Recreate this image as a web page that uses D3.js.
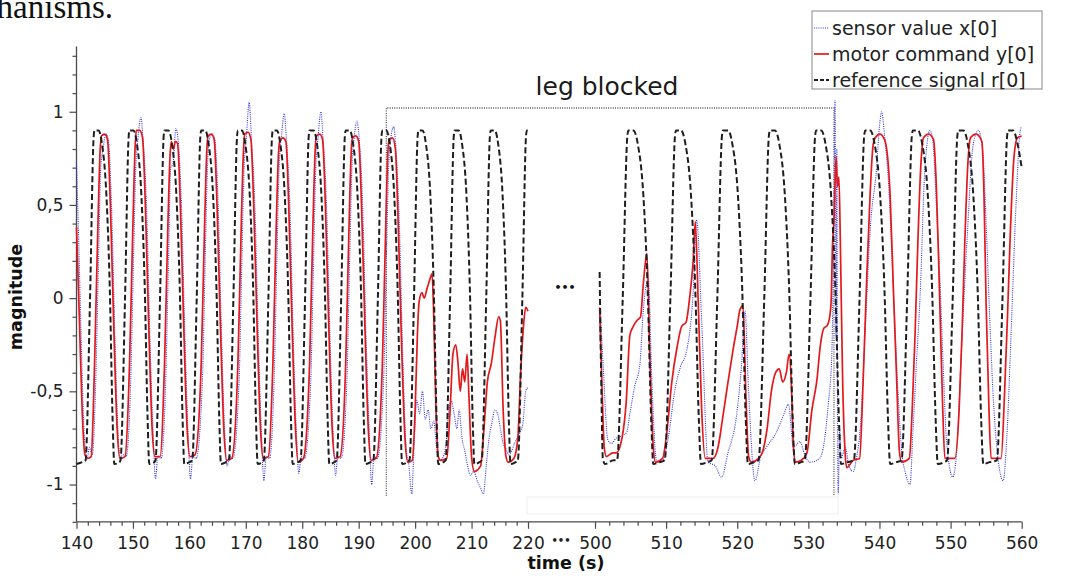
<!DOCTYPE html>
<html><head><meta charset="utf-8">
<script src="https://cdn.jsdelivr.net/npm/d3@7"></script>
<style>body{margin:0;background:#fff}svg{display:block}</style>
</head><body>
<svg id="c" width="1073" height="579"></svg>
<script>
// ---------- data ----------
const xTicksLeft = [140,150,160,170,180,190,200,210,220];
const xTicksRight = [500,510,520,530,540,550,560];
const yTicks = [-1,-0.5,0,0.5,1];
const yTickLabels = ["-1","-0,5","0","0,5","1"];
const seriesNames = ["sensor value x[0]","motor command y[0]","reference signal r[0]"];
const blockedSpan = [194.9, 533.6];   // left-segment start, right-segment end (s)
const blockedLevels = [1.02, -1.06];

const refLeft = [
[140.0,-0.89],[141.0,-0.88],
[141.6,-0.87],[142.4,0.0],[143.05,0.87],[143.2,0.9],[143.9,0.9],[144.5,0.83],[145.3,0.55],[145.9,0.05],[146.4,-0.65],[146.7,-0.89],[147.6,-0.88],
[147.8,-0.87],[148.6,0.0],[149.25,0.87],[149.4,0.9],[150.1,0.9],[150.7,0.83],[151.5,0.55],[152.1,0.05],[152.6,-0.65],[152.9,-0.89],[153.8,-0.88],
[154.0,-0.87],[154.8,0.0],[155.45,0.87],[155.6,0.9],[156.3,0.9],[156.9,0.83],[157.7,0.55],[158.3,0.05],[158.8,-0.65],[159.1,-0.89],[160.0,-0.88],
[160.5,-0.87],[161.3,0.0],[161.95,0.87],[162.1,0.9],[162.8,0.9],[163.4,0.83],[164.2,0.55],[164.8,0.05],[165.3,-0.65],[165.6,-0.89],[166.5,-0.88],
[167.0,-0.87],[167.8,0.0],[168.45,0.87],[168.6,0.9],[169.3,0.9],[169.9,0.83],[170.7,0.55],[171.3,0.05],[171.8,-0.65],[172.1,-0.89],[173.0,-0.88],
[173.2,-0.87],[174.0,0.0],[174.65,0.87],[174.8,0.9],[175.5,0.9],[176.1,0.83],[176.9,0.55],[177.5,0.05],[178.0,-0.65],[178.3,-0.89],[179.2,-0.88],
[179.7,-0.87],[180.5,0.0],[181.15,0.87],[181.3,0.9],[182.0,0.9],[182.6,0.83],[183.4,0.55],[184.0,0.05],[184.5,-0.65],[184.8,-0.89],[185.7,-0.88],
[186.1,-0.87],[186.9,0.0],[187.55,0.87],[187.7,0.9],[188.4,0.9],[189.0,0.83],[189.8,0.55],[190.4,0.05],[190.9,-0.65],[191.2,-0.89],[192.1,-0.88],
[192.6,-0.87],[193.4,0.0],[194.05,0.87],[194.2,0.9],[194.9,0.9],[195.5,0.83],[196.3,0.55],[196.9,0.05],[197.4,-0.65],[197.7,-0.89],[198.6,-0.88],
[199.0,-0.87],[199.8,0.0],[200.45,0.87],[200.6,0.9],[201.3,0.9],[201.9,0.83],[202.7,0.55],[203.3,0.05],[203.8,-0.65],[204.1,-0.89],[205.0,-0.88],
[205.4,-0.87],[206.2,0.0],[206.85,0.87],[207.0,0.9],[207.7,0.9],[208.3,0.83],[209.1,0.55],[209.7,0.05],[210.2,-0.65],[210.5,-0.89],[211.4,-0.88],
[211.8,-0.87],[212.6,0.0],[213.25,0.87],[213.4,0.9],[214.1,0.9],[214.7,0.83],[215.5,0.55],[216.1,0.05],[216.6,-0.65],[216.9,-0.89],[217.8,-0.88],
[218.2,-0.87],[219.0,0.0],[219.65,0.87],[219.8,0.9],[220.0,0.9]
];
const refRight = [
[500.65,0.14],[500.9,-0.5],[501.1,-0.86],[501.4,-0.89],[502.6,-0.87],
[503.1,-0.87],[503.9,0.0],[504.55,0.87],[504.7,0.9],[505.4,0.9],[506.0,0.83],[506.8,0.55],[507.4,0.05],[507.9,-0.65],[508.2,-0.89],[509.1,-0.88],
[509.8,-0.87],[510.6,0.0],[511.25,0.87],[511.4,0.9],[512.1,0.9],[512.7,0.83],[513.5,0.55],[514.1,0.05],[514.6,-0.65],[514.9,-0.89],[515.8,-0.88],
[516.4,-0.87],[517.2,0.0],[517.85,0.87],[518.0,0.9],[518.7,0.9],[519.3,0.83],[520.1,0.55],[520.7,0.05],[521.2,-0.65],[521.5,-0.89],[522.4,-0.88],
[523.0,-0.87],[523.8,0.0],[524.45,0.87],[524.6,0.9],[525.3,0.9],[525.9,0.83],[526.7,0.55],[527.3,0.05],[527.8,-0.65],[528.1,-0.89],[529.0,-0.88],
[529.5,-0.87],[530.3,0.0],[530.95,0.87],[531.1,0.9],[531.8,0.9],[532.4,0.83],[533.2,0.55],[533.8,0.05],[534.3,-0.65],[534.6,-0.89],[535.5,-0.88],
[536.4,-0.87],[537.2,0.0],[537.85,0.87],[538.0,0.9],[538.7,0.9],[539.3,0.83],[540.1,0.55],[540.7,0.05],[541.2,-0.65],[541.5,-0.89],[542.4,-0.88],
[543.1,-0.87],[543.9,0.0],[544.55,0.87],[544.7,0.9],[545.4,0.9],[546.0,0.83],[546.8,0.55],[547.4,0.05],[547.9,-0.65],[548.2,-0.89],[549.1,-0.88],
[549.5,-0.87],[550.3,0.0],[550.95,0.87],[551.1,0.9],[551.8,0.9],[552.4,0.83],[553.2,0.55],[553.8,0.05],[554.3,-0.65],[554.6,-0.89],[555.5,-0.88],
[556.5,-0.87],[557.3,0.0],[557.95,0.87],[558.1,0.9],[558.8,0.9],[559.4,0.83],[560.0,0.7]
];
const motorLeft = [
[140.0,0.38],[140.5,-0.1],[141.0,-0.6],[141.5,-0.84],[142.0,-0.86],[142.6,-0.85],
[143.2,-0.35],[143.8,0.4],[144.2,0.8],[144.4,0.87],[145.0,0.88],[145.5,0.85],[146.0,0.5],[146.6,-0.15],[147.2,-0.7],[147.7,-0.86],[148.6,-0.85],
[149.4,-0.35],[150.0,0.4],[150.4,0.82],[150.6,0.9],[151.2,0.9],[151.7,0.86],[152.2,0.5],[152.8,-0.15],[153.4,-0.7],[153.9,-0.85],[154.8,-0.85],
[155.6,-0.35],[156.2,0.4],[156.6,0.78],[156.8,0.84],[157.2,0.8],[157.5,0.84],[157.9,0.83],[158.4,0.5],[159.0,-0.15],[159.6,-0.7],[160.1,-0.85],[161.0,-0.84],
[162.1,-0.35],[162.7,0.4],[163.1,0.8],[163.3,0.87],[163.9,0.88],[164.4,0.85],[164.9,0.5],[165.5,-0.15],[166.1,-0.7],[166.6,-0.87],[167.5,-0.86],
[168.6,-0.35],[169.2,0.4],[169.6,0.8],[169.8,0.88],[170.4,0.89],[170.9,0.85],[171.4,0.5],[172.0,-0.15],[172.6,-0.7],[173.1,-0.86],[174.0,-0.85],
[174.8,-0.35],[175.4,0.4],[175.8,0.78],[176.0,0.84],[176.6,0.86],[177.1,0.84],[177.6,0.5],[178.2,-0.15],[178.8,-0.7],[179.3,-0.88],[180.2,-0.86],
[181.3,-0.35],[181.9,0.4],[182.3,0.8],[182.5,0.87],[183.1,0.88],[183.6,0.85],[184.1,0.5],[184.7,-0.15],[185.3,-0.7],[185.8,-0.86],[186.7,-0.85],
[187.7,-0.35],[188.3,0.4],[188.7,0.8],[188.9,0.86],[189.5,0.87],[190.0,0.84],[190.5,0.5],[191.1,-0.15],[191.7,-0.7],[192.2,-0.87],[193.1,-0.86],
[194.2,-0.35],[194.8,0.4],[195.2,0.8],[195.4,0.85],[196.0,0.86],[196.5,0.8],[197.0,0.4],[197.6,-0.25],[198.2,-0.75],[198.7,-0.88],[199.5,-0.87],
[200.0,-0.6],[200.4,-0.2],[200.7,-0.02],[201.2,0.03],[201.6,0.0],[202.1,0.05],[202.6,0.1],[203.0,0.13],[203.3,-0.1],[203.7,-0.6],[204.1,-0.85],[204.5,-0.87],[205.6,-0.86],
[206.2,-0.6],[206.7,-0.3],[207.2,-0.25],[207.6,-0.35],[208.0,-0.5],[208.4,-0.38],[208.8,-0.45],[209.2,-0.3],[209.5,-0.5],[210.0,-0.85],[210.5,-0.93],[211.6,-0.9],
[212.2,-0.7],[212.8,-0.45],[213.5,-0.35],[214.2,-0.2],[214.8,-0.1],[215.1,-0.12],[215.6,-0.6],[216.1,-0.85],[216.5,-0.88],[217.5,-0.86],
[218.2,-0.75],[218.7,-0.4],[219.2,-0.15],[219.6,-0.05],[220.0,-0.07]
];
const motorRight = [
[500.65,-0.05],[501.0,-0.5],[501.3,-0.8],[501.6,-0.85],[502.5,-0.83],
[503.0,-0.83],[503.8,-0.75],[504.4,-0.55],[504.9,-0.2],[505.4,-0.15],[505.9,-0.12],[506.4,-0.1],[506.8,0.08],[507.3,0.24],[507.7,-0.3],[508.2,-0.8],[508.5,-0.88],[509.5,-0.86],
[510.1,-0.72],[510.8,-0.45],[511.6,-0.25],[512.2,-0.15],[512.8,-0.13],[513.3,0.0],[513.8,0.2],[514.1,0.41],[514.5,0.0],[515.0,-0.6],[515.5,-0.86],[516.6,-0.86],
[517.3,-0.8],[518.0,-0.63],[518.7,-0.45],[519.4,-0.28],[520.0,-0.15],[520.4,-0.06],[520.8,-0.04],[521.2,-0.5],[521.6,-0.85],[522.0,-0.88],[523.0,-0.86],
[523.6,-0.82],[524.2,-0.7],[524.8,-0.5],[525.4,-0.4],[525.9,-0.38],[526.4,-0.45],[526.9,-0.4],[527.3,-0.3],[527.6,-0.45],[527.9,-0.8],[528.2,-0.88],[529.0,-0.87],
[529.8,-0.83],[530.5,-0.6],[531.2,-0.44],[531.7,-0.25],[532.2,-0.16],[532.6,-0.15],[533.0,-0.1],[533.2,-0.02],[533.4,0.29],[533.6,0.41],[533.9,0.76],[534.1,0.6],[534.3,0.65],[534.5,0.3],[534.8,-0.4],[535.2,-0.85],[535.4,-0.91],[536.3,-0.87],[537.2,-0.86],
[537.7,-0.45],[538.2,0.1],[538.7,0.57],[539.1,0.82],[539.4,0.86],[540.1,0.88],[540.8,0.84],[541.5,0.55],[542.0,0.0],[542.4,-0.42],[542.8,-0.82],[543.1,-0.88],[544.2,-0.86],
[544.6,-0.6],[545.0,-0.2],[545.4,0.3],[545.8,0.7],[546.2,0.86],[546.9,0.88],[547.6,0.85],[548.0,0.6],[548.5,-0.05],[548.9,-0.6],[549.2,-0.86],[550.6,-0.86],
[551.2,-0.6],[551.6,-0.2],[552.0,0.3],[552.4,0.7],[552.8,0.86],[553.6,0.88],[554.4,0.84],[554.7,0.55],[555.0,-0.04],[555.4,-0.6],[555.7,-0.86],[557.1,-0.86],
[557.6,-0.5],[558.0,-0.1],[558.4,0.35],[558.9,0.75],[559.4,0.86],[560.0,0.87]
];
const sensorLeft = [
[140.0,0.72],[140.4,0.3],[140.9,-0.3],[141.4,-0.75],[141.9,-0.86],[142.3,-0.8],[142.8,-0.84],
[143.4,-0.45],[143.9,0.2],[144.3,0.7],[144.7,0.8],[145.2,0.88],[145.6,0.86],[146.2,0.5],[146.8,-0.2],[147.4,-0.75],[147.8,-0.86],[148.2,-0.84],[148.8,-0.85],
[149.6,-0.45],[150.1,0.2],[150.5,0.7],[150.9,0.86],[151.4,0.97],[151.8,0.85],[152.4,0.5],[153.0,-0.2],[153.6,-0.75],[154.0,-0.97],[154.4,-0.85],[155.0,-0.86],
[155.8,-0.45],[156.3,0.2],[156.7,0.7],[157.1,0.72],[157.6,0.91],[158.0,0.85],[158.6,0.5],[159.2,-0.2],[159.8,-0.75],[160.2,-0.97],[160.6,-0.85],[161.2,-0.86],
[162.3,-0.45],[162.8,0.2],[163.2,0.7],[163.6,0.86],[164.1,0.88],[164.5,0.85],[165.1,0.5],[165.7,-0.2],[166.3,-0.75],[166.7,-0.9],[167.1,-0.85],[167.7,-0.86],
[168.8,-0.45],[169.3,0.2],[169.7,0.7],[170.1,0.86],[170.6,1.05],[171.0,0.85],[171.6,0.5],[172.2,-0.2],[172.8,-0.75],[173.2,-0.98],[173.6,-0.85],[174.2,-0.86],
[175.0,-0.45],[175.5,0.2],[175.9,0.7],[176.3,0.86],[176.8,0.99],[177.2,0.85],[177.8,0.5],[178.4,-0.2],[179.0,-0.75],[179.4,-0.94],[179.8,-0.85],[180.4,-0.86],
[181.5,-0.45],[182.0,0.2],[182.4,0.7],[182.8,0.86],[183.3,1.0],[183.7,0.85],[184.3,0.5],[184.9,-0.2],[185.5,-0.75],[185.9,-0.95],[186.3,-0.85],[186.9,-0.86],
[187.9,-0.45],[188.4,0.2],[188.8,0.7],[189.2,0.86],[189.7,0.95],[190.1,0.85],[190.7,0.5],[191.3,-0.2],[191.9,-0.75],[192.3,-1.0],[192.7,-0.85],[193.3,-0.86],
[194.4,-0.45],[194.9,0.2],[195.3,0.7],[195.7,0.86],[196.2,0.92],[196.6,0.8],[197.2,0.4],[197.8,-0.3],[198.4,-0.8],[198.9,-0.9],[199.4,-1.05],[199.8,-0.8],
[200.3,-0.55],[200.8,-0.62],[201.3,-0.5],[201.8,-0.65],[202.3,-0.6],[202.8,-0.7],[203.3,-0.66],[203.8,-0.8],[204.3,-0.87],[204.8,-0.86],
[205.4,-0.8],[205.9,-0.62],[206.4,-0.55],[206.9,-0.62],[207.4,-0.7],[207.8,-0.6],[208.3,-0.75],[208.8,-0.82],[209.3,-0.9],[209.8,-0.95],[210.4,-0.93],[211.0,-0.98],[211.6,-1.02],[212.1,-1.05],
[212.6,-0.9],[213.1,-0.75],[213.6,-0.67],[214.1,-0.6],[214.6,-0.62],[215.1,-0.7],[215.6,-0.78],[216.1,-0.81],[216.6,-0.84],[217.1,-0.82],[217.6,-0.78],[218.1,-0.75],[218.6,-0.72],[219.1,-0.67],[219.6,-0.5],[220.0,-0.48]
];
const sensorRight = [
[500.75,-0.06],[501.2,-0.4],[501.8,-0.76],[502.3,-0.78],[503.0,-0.75],[503.7,-0.74],[504.45,-0.72],[504.9,-0.62],[505.6,-0.47],[506.3,-0.36],[506.8,-0.06],[507.5,0.1],[508.0,-0.45],[508.7,-0.88],[509.4,-0.88],
[510.3,-0.75],[511.2,-0.5],[512.0,-0.37],[512.9,-0.28],[513.8,0.03],[514.3,0.42],[515.0,-0.12],[515.9,-0.88],[516.9,-0.9],[517.8,-0.96],
[518.7,-0.83],[519.9,-0.63],[520.6,-0.36],[521.1,-0.07],[521.6,-0.5],[522.5,-0.98],[523.3,-0.85],[524.1,-0.8],[525.5,-0.72],[526.5,-0.63],[527.2,-0.57],[527.9,-0.8],[528.8,-0.77],[529.5,-0.84],[530.2,-0.88],[531.6,-0.86],
[532.8,-0.57],[533.3,-0.3],[533.6,0.5],[533.75,1.06],[533.9,-0.2],[534.0,0.8],[534.1,-0.6],[534.2,-1.05],[534.4,-0.7],[534.6,-0.86],
[535.2,-0.8],[535.7,-0.9],[536.3,-0.93],[536.8,-0.85],[537.3,-0.7],[538.0,-0.17],[538.7,0.37],[539.6,0.7],[540.0,0.92],[540.3,1.0],[540.7,0.88],[541.3,0.6],[542.0,0.0],[542.6,-0.5],[543.2,-0.85],[543.6,-0.93],[544.3,-1.0],
[544.7,-0.72],[545.2,-0.35],[545.7,0.0],[546.4,0.7],[547.1,0.9],[547.5,0.85],[548.0,0.5],[548.5,0.1],[549.0,-0.4],[549.4,-0.75],[550.3,-0.96],[550.8,-0.85],
[551.5,-0.3],[552.3,0.3],[553.2,0.83],[553.9,0.9],[554.5,0.8],[555.0,0.4],[555.6,-0.2],[556.1,-0.6],[556.5,-0.8],[557.4,-0.98],[557.9,-0.75],[558.5,-0.2],[559.2,0.5],[559.8,0.9],[560.0,0.92]
];

// ---------- drawing ----------
const svg = d3.select("#c");
const FONT = "'DejaVu Sans', sans-serif";
const xL = d3.scaleLinear().domain([140,220]).range([76.5,528]);
const xR = d3.scaleLinear().domain([500,560]).range([595,1021.7]);
const y = d3.scaleLinear().domain([-1.2,1.35]).range([521.8,46.5]);
const axisColor = "#4a4a4a";

// paper text fragment (cut at the page edge, as in the source)
svg.append("text").attr("x",113).attr("y",17.5).attr("text-anchor","end")
  .attr("font-family","'Liberation Serif', serif").attr("font-size",33).attr("fill","#111")
  .text("mechanisms.");

// faint paste artefact box
svg.append("rect").attr("x",527).attr("y",497).attr("width",311).attr("height",17)
  .attr("fill","none").attr("stroke","#eeeeee").attr("stroke-width",1);

// axes
svg.append("line").attr("x1",xL(140)).attr("x2",xR(560)).attr("y1",y(-1.2)).attr("y2",y(-1.2))
  .attr("stroke",axisColor).attr("stroke-width",1.3);
function xAxis(scale, majors, lo, hi){
  const minors = d3.range(lo, hi+0.001, 2).filter(v=>!majors.includes(v));
  const gMin = svg.append("g").attr("transform",`translate(0,${y(-1.2)})`)
    .call(d3.axisBottom(scale).tickValues(minors).tickSize(4).tickFormat(""));
  const gMaj = svg.append("g").attr("transform",`translate(0,${y(-1.2)})`)
    .call(d3.axisBottom(scale).tickValues(majors).tickSize(7).tickPadding(8).tickFormat(d3.format("d")));
  [gMin,gMaj].forEach(g=>{ g.select(".domain").remove();
    g.selectAll("line").attr("stroke",axisColor).attr("stroke-width",1.2);
    g.selectAll("text").attr("font-family",FONT).attr("font-size",17).attr("fill","#222"); });
}
xAxis(xL, xTicksLeft, 140, 220);
xAxis(xR, xTicksRight, 500, 560);
svg.append("text").attr("x",561).attr("y",544).attr("text-anchor","middle")
  .attr("font-family",FONT).attr("font-size",10).attr("font-weight","bold").attr("fill","#222").text("•••");

// y axis
svg.append("line").attr("x1",76.5).attr("x2",76.5).attr("y1",y(1.35)).attr("y2",y(-1.2))
  .attr("stroke",axisColor).attr("stroke-width",1.3);
const yMinor = d3.range(-12, 14).map(v=>v/10).filter(v=>!yTicks.some(t=>Math.abs(t-v)<1e-6));
const gyMin = svg.append("g").attr("transform","translate(76.5,0)")
  .call(d3.axisLeft(y).tickValues(yMinor).tickSize(4).tickFormat(""));
const gyMaj = svg.append("g").attr("transform","translate(76.5,0)")
  .call(d3.axisLeft(y).tickValues(yTicks).tickSize(7).tickPadding(6).tickFormat((d,i)=>yTickLabels[i]));
[gyMin,gyMaj].forEach(g=>{ g.select(".domain").remove();
  g.selectAll("line").attr("stroke",axisColor).attr("stroke-width",1.2);
  g.selectAll("text").attr("font-family",FONT).attr("font-size",17).attr("fill","#222"); });

// axis titles
svg.append("text").attr("transform","translate(22,297) rotate(-90)").attr("text-anchor","middle")
  .attr("font-family",FONT).attr("font-weight","bold").attr("font-size",17.5).attr("fill","#111").text("magnitude");
svg.append("text").attr("x",566).attr("y",569).attr("text-anchor","middle")
  .attr("font-family",FONT).attr("font-weight","bold").attr("font-size",17.5).attr("fill","#111").text("time (s)");

// blocked annotation box
const bx1 = xL(blockedSpan[0]), bx2 = xR(blockedSpan[1]);
svg.append("path")
  .attr("d",`M${bx1},${y(blockedLevels[1])}V${y(blockedLevels[0])}H${bx2}V${y(blockedLevels[1])}`)
  .attr("fill","none").attr("stroke","#555").attr("stroke-width",1.3).attr("stroke-dasharray","1,1.3");
svg.append("text").attr("x",607).attr("y",95).attr("text-anchor","middle")
  .attr("font-family",FONT).attr("font-size",25).attr("fill","#1a1a1a").text("leg blocked");

// series
const styles = [
  {color:"#3434e0", width:1.1, dash:"1,1.2"},
  {color:"#e3191c", width:1.7, dash:null},
  {color:"#1e1e1e", width:2.0, dash:"6,3"}
];
const seriesData = [[sensorLeft,sensorRight],[motorLeft,motorRight],[refLeft,refRight]];
seriesData.forEach((pair,k)=>{
  [[pair[0],xL],[pair[1],xR]].forEach(([data,sx])=>{
    const line = d3.line().x(d=>sx(d[0])).y(d=>y(d[1])).curve(d3.curveMonotoneX);
    const p = svg.append("path").attr("d",line(data)).attr("fill","none")
      .attr("stroke",styles[k].color).attr("stroke-width",styles[k].width)
      .attr("stroke-linejoin","round");
    if(styles[k].dash) p.attr("stroke-dasharray",styles[k].dash);
  });
});

// gap marker inside the plot
svg.append("text").attr("x",565).attr("y",291).attr("text-anchor","middle")
  .attr("font-family",FONT).attr("font-size",11).attr("font-weight","bold").attr("fill","#111").text("•••");

// legend
const lg = svg.append("g");
lg.append("rect").attr("x",812).attr("y",11).attr("width",230).attr("height",78)
  .attr("fill","#fff").attr("stroke","#888").attr("stroke-width",1);
seriesNames.forEach((name,i)=>{
  const cy = 28 + i*26;
  const l = lg.append("line").attr("x1",814).attr("x2",829).attr("y1",cy).attr("y2",cy)
    .attr("stroke",styles[i].color).attr("stroke-width",styles[i].width);
  if(styles[i].dash) l.attr("stroke-dasharray",i===2?"4,2":styles[i].dash);
  lg.append("text").attr("x",832).attr("y",cy+6.5).attr("font-family",FONT).attr("font-size",19)
    .attr("fill","#222").text(name);
});
</script>
</body></html>
